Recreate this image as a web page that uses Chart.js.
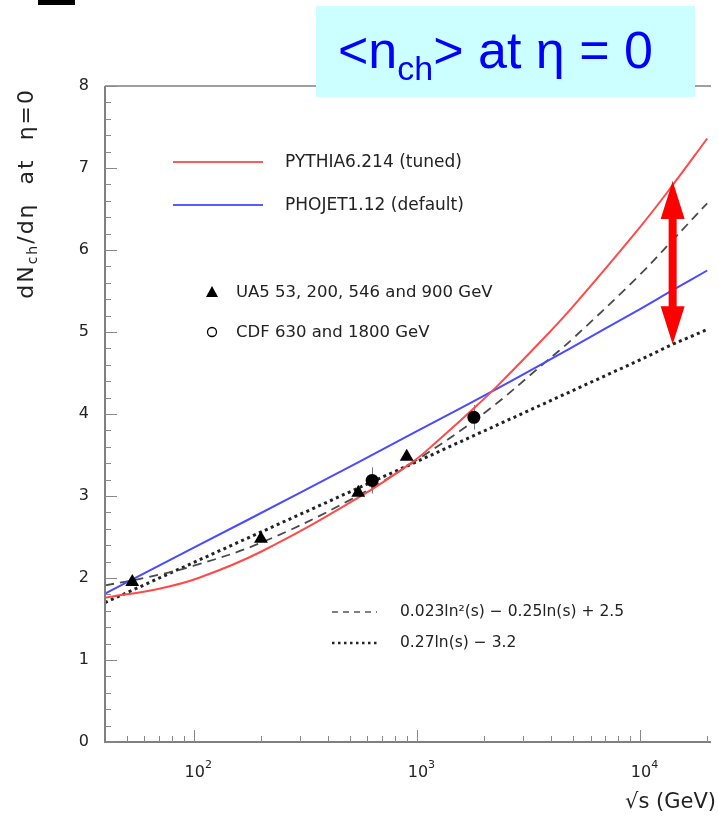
<!DOCTYPE html>
<html><head><meta charset="utf-8">
<script src="https://cdn.jsdelivr.net/npm/chart.js@4.4.1/dist/chart.umd.min.js"></script>
<style>html,body{margin:0;padding:0;background:#fff;overflow:hidden}#wrap{position:relative;width:719px;height:820px}</style>
</head><body><div id="wrap"><canvas id="c" width="719" height="820"></canvas></div>
<script>
// ---- data ----
const pythiaX = [40, 70, 105, 200, 546, 961, 1213, 1800, 2290, 3720, 5000, 10000, 14000, 20000];
const pythiaY = [1.76, 1.87, 2.0, 2.32, 2.98, 3.42, 3.65, 4.07, 4.34, 4.93, 5.31, 6.28, 6.79, 7.36];
const phojetX = [40, 100, 300, 1000, 2290, 5000, 10000, 14000, 20000];
const phojetY = [1.81, 2.37, 3.04, 3.79, 4.31, 4.82, 5.28, 5.51, 5.75];
const quadX = [40, 60, 100, 200, 500, 1000, 2000, 3720, 5000, 10000, 14000, 20000];
const quadY = [1.91, 2.0, 2.15, 2.43, 2.95, 3.44, 4.01, 4.62, 4.92, 5.70, 6.12, 6.57];
const linX = [40, 100, 1000, 10000, 14000, 20000];
const linY = [1.70, 2.19, 3.42, 4.66, 4.85, 5.03];
const ua5X = [53, 200, 546, 900];
const ua5Y = [1.95, 2.48, 3.04, 3.48];
const cdfX = [630, 1800];
const cdfY = [3.19, 3.96];
const cdfErr = [0.16, 0.15];
const arrowX = 14000;
const arrowTop = 6.84;
const arrowBottom = 4.85;
const yTicks = [0, 1, 2, 3, 4, 5, 6, 7, 8];
const xMajor = [100, 1000, 10000];
const xMajorExp = ['2', '3', '4'];
const xMinor = [50, 60, 70, 80, 90, 200, 300, 400, 500, 600, 700, 800, 900, 2000, 3000, 4000, 5000, 6000, 7000, 8000, 9000, 20000];
const yMinorStep = 0.2;
const legendLines = ['PYTHIA6.214 (tuned)', 'PHOJET1.12 (default)'];
const legendMarkers = ['UA5 53, 200, 546 and 900 GeV', 'CDF 630 and 1800 GeV'];
const legendFits = ['0.023ln\u00B2(s) \u2212 0.25ln(s) + 2.5', '0.27ln(s) \u2212 3.2'];

const pts = (xs, ys) => xs.map((x, i) => ({x: x, y: ys[i]}));
const FONT = '"DejaVu Sans", "Liberation Sans", sans-serif';
const TFONT = '"Liberation Sans", Arial, sans-serif';

const decor = {
  id: 'decor',
  beforeDatasetsDraw(chart) {
    const {ctx, scales: {x, y}} = chart;
    ctx.save();
    ctx.strokeStyle = '#777'; ctx.lineWidth = 1;
    cdfX.forEach((v, i) => {
      const px = Math.round(x.getPixelForValue(v)) + 0.5;
      ctx.beginPath();
      ctx.moveTo(px, y.getPixelForValue(cdfY[i] + cdfErr[i]));
      ctx.lineTo(px, y.getPixelForValue(cdfY[i] - cdfErr[i]));
      ctx.stroke();
    });
    ctx.restore();
  },
  afterDraw(chart) {
    const {ctx, chartArea: a, scales: {x, y}} = chart;
    ctx.save();
    // frame
    ctx.strokeStyle = '#808080';
    ctx.lineWidth = 2;
    ctx.beginPath();
    ctx.moveTo(a.left, a.top); ctx.lineTo(a.left, a.bottom); ctx.lineTo(a.right, a.bottom);
    ctx.stroke();
    ctx.lineWidth = 1.5;
    ctx.beginPath(); ctx.moveTo(a.left, a.top); ctx.lineTo(a.right, a.top); ctx.stroke();
    // y ticks (inside)
    ctx.lineWidth = 1; ctx.strokeStyle = '#888';
    for (let v = 0; v <= 8.001; v += yMinorStep) {
      const py = Math.round(y.getPixelForValue(v)) + 0.5;
      const major = Math.abs(v - Math.round(v)) < 1e-6;
      ctx.beginPath(); ctx.moveTo(a.left, py); ctx.lineTo(a.left + (major ? 12 : 6), py); ctx.stroke();
    }
    // x ticks (inside)
    xMajor.forEach(v => {
      const px = Math.round(x.getPixelForValue(v)) + 0.5;
      ctx.beginPath(); ctx.moveTo(px, a.bottom); ctx.lineTo(px, a.bottom - 12); ctx.stroke();
    });
    xMinor.forEach(v => {
      const px = Math.round(x.getPixelForValue(v)) + 0.5;
      ctx.beginPath(); ctx.moveTo(px, a.bottom); ctx.lineTo(px, a.bottom - 6); ctx.stroke();
    });
    // x tick labels with superscripts
    ctx.fillStyle = '#222';
    ctx.textBaseline = 'alphabetic';
    xMajor.forEach((v, i) => {
      const px = x.getPixelForValue(v);
      ctx.font = '16px ' + FONT;
      ctx.textAlign = 'center';
      ctx.fillText('10', px + 1, 777);
      const w = ctx.measureText('10').width;
      ctx.font = '11px ' + FONT;
      ctx.textAlign = 'left';
      ctx.fillText(xMajorExp[i], px + 1 + w / 2, 768);
    });
    // x title
    ctx.font = '21px ' + FONT;
    ctx.textAlign = 'right';
    ctx.fillText('\u221As (GeV)', 716, 808);
    // y title (rotated)
    ctx.save();
    ctx.translate(33, 88);
    ctx.rotate(-Math.PI / 2);
    try { ctx.letterSpacing = '2px'; } catch (e) {}
    const big = '22px ' + FONT, small = '14px ' + FONT;
    const parts = [['dN', big, 0], ['ch', small, 4], ['/d\u03B7  at  \u03B7=0', big, 0]];
    let total = 0;
    parts.forEach(p => { ctx.font = p[1]; total += ctx.measureText(p[0]).width; });
    let cx = -total;
    ctx.textAlign = 'left';
    parts.forEach(p => { ctx.font = p[1]; ctx.fillText(p[0], cx, p[2]); cx += ctx.measureText(p[0]).width; });
    try { ctx.letterSpacing = '0px'; } catch (e) {}
    ctx.restore();

    // red double arrow
    const ax = x.getPixelForValue(arrowX);
    const yt = y.getPixelForValue(arrowTop), yb = y.getPixelForValue(arrowBottom);
    const hl = 38, hw = 12, sw = 4;
    ctx.fillStyle = '#ff0000';
    ctx.beginPath();
    ctx.moveTo(ax, yt);
    ctx.lineTo(ax + hw, yt + hl); ctx.lineTo(ax + sw, yt + hl);
    ctx.lineTo(ax + sw, yb - hl); ctx.lineTo(ax + hw, yb - hl);
    ctx.lineTo(ax, yb);
    ctx.lineTo(ax - hw, yb - hl); ctx.lineTo(ax - sw, yb - hl);
    ctx.lineTo(ax - sw, yt + hl); ctx.lineTo(ax - hw, yt + hl);
    ctx.closePath(); ctx.fill();

    // legend
    ctx.lineWidth = 2;
    ctx.strokeStyle = '#ff5a5a';
    ctx.beginPath(); ctx.moveTo(173, 162); ctx.lineTo(263, 162); ctx.stroke();
    ctx.strokeStyle = '#5a5aff';
    ctx.beginPath(); ctx.moveTo(173, 205); ctx.lineTo(263, 205); ctx.stroke();
    ctx.fillStyle = '#222';
    ctx.textAlign = 'left'; ctx.textBaseline = 'middle';
    ctx.font = '17px ' + FONT;
    ctx.fillText(legendLines[0], 285, 163);
    ctx.fillText(legendLines[1], 285, 206);
    // marker legend
    ctx.fillStyle = '#000';
    ctx.beginPath(); ctx.moveTo(212, 286); ctx.lineTo(218, 297); ctx.lineTo(206, 297); ctx.closePath(); ctx.fill();
    ctx.strokeStyle = '#000'; ctx.lineWidth = 1.3;
    ctx.beginPath(); ctx.arc(212, 332, 4.5, 0, Math.PI * 2); ctx.stroke();
    ctx.fillStyle = '#222';
    ctx.font = '16.5px ' + FONT;
    ctx.fillText(legendMarkers[0], 236, 293);
    ctx.fillText(legendMarkers[1], 236, 333);
    // fit legend
    ctx.strokeStyle = '#555'; ctx.lineWidth = 1.5; ctx.setLineDash([6, 5]);
    ctx.beginPath(); ctx.moveTo(332, 612); ctx.lineTo(377, 612); ctx.stroke();
    ctx.strokeStyle = '#222'; ctx.lineWidth = 2.5; ctx.setLineDash([2.5, 3.5]);
    ctx.beginPath(); ctx.moveTo(332, 643); ctx.lineTo(377, 643); ctx.stroke();
    ctx.setLineDash([]);
    ctx.font = '15.5px ' + FONT;
    ctx.fillText(legendFits[0], 400, 612);
    ctx.fillText(legendFits[1], 400, 643);

    // title box
    ctx.fillStyle = '#ccffff';
    ctx.fillRect(316, 6, 379, 91);
    ctx.fillStyle = '#0000ff';
    ctx.textBaseline = 'alphabetic'; ctx.textAlign = 'left';
    let tx = 338;
    ctx.font = '52px ' + TFONT; ctx.fillText('<n', tx, 68); tx += ctx.measureText('<n').width;
    ctx.font = '34px ' + TFONT; ctx.fillText('ch', tx, 80); tx += ctx.measureText('ch').width;
    ctx.font = '52px ' + TFONT; ctx.fillText('> at \u03B7 = 0', tx, 68);
    // black bar top-left
    ctx.fillStyle = '#000';
    ctx.fillRect(38, 0, 37, 5);
    ctx.restore();
  }
};

new Chart(document.getElementById('c'), {
  type: 'line',
  data: {
    datasets: [
      {label: 'UA5', data: pts(ua5X, ua5Y), showLine: false, pointStyle: 'triangle', pointRadius: 8, backgroundColor: '#000', borderColor: '#000', borderWidth: 0},
      {label: 'CDF', data: pts(cdfX, cdfY), showLine: false, pointStyle: 'circle', pointRadius: 6.5, backgroundColor: '#000', borderColor: '#000', borderWidth: 0},
      {label: 'PYTHIA6.214 (tuned)', data: pts(pythiaX, pythiaY), borderColor: '#ff4a4a', borderWidth: 2, pointRadius: 0, fill: false, tension: 0.4},
      {label: 'PHOJET1.12 (default)', data: pts(phojetX, phojetY), borderColor: '#4a4aff', borderWidth: 2, pointRadius: 0, fill: false, tension: 0.4},
      {label: 'quadratic', data: pts(quadX, quadY), borderColor: '#4a4a4a', borderWidth: 1.8, borderDash: [9, 6], pointRadius: 0, fill: false, tension: 0.4},
      {label: 'linear', data: pts(linX, linY), borderColor: '#222', borderWidth: 3, borderDash: [3, 3.5], pointRadius: 0, fill: false, tension: 0}
    ]
  },
  options: {
    responsive: false, animation: false, devicePixelRatio: 1,
    layout: {padding: {top: 86, right: 0, left: 0, bottom: 0}},
    plugins: {legend: {display: false}, tooltip: {enabled: false}, title: {display: false}},
    scales: {
      x: {
        type: 'logarithmic', min: 40, max: 20800,
        grid: {display: false, drawTicks: false}, border: {display: false},
        ticks: {display: false},
        afterFit: s => { s.height = 78; }
      },
      y: {
        min: 0, max: 8,
        grid: {display: false, drawTicks: false}, border: {display: false},
        afterBuildTicks: s => { s.ticks = yTicks.map(v => ({value: v})); },
        ticks: {color: '#222', font: {family: FONT, size: 16}, padding: 16, callback: v => String(v)},
        afterFit: s => { s.width = 105; }
      }
    }
  },
  plugins: [decor]
});
</script>
</body></html>
